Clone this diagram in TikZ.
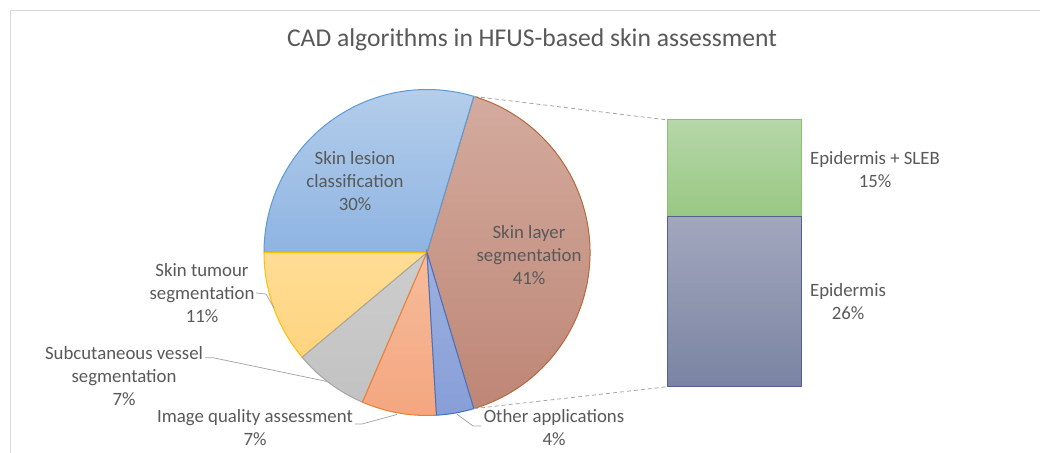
\documentclass[tikz,border=0pt]{standalone}
\usepackage{fontspec}
\setmainfont{Carlito}
\definecolor{txt}{HTML}{595959}
\definecolor{frame}{HTML}{D9D9D9}
\definecolor{lead}{HTML}{A6A6A6}
\definecolor{layT}{HTML}{D3AB9E}\definecolor{layB}{HTML}{BE8676}\definecolor{layD}{HTML}{B7683E}
\definecolor{lesT}{HTML}{B6CFEB}\definecolor{lesB}{HTML}{8EB4E2}\definecolor{lesD}{HTML}{5B9BD5}
\definecolor{tumT}{HTML}{FFDC96}\definecolor{tumB}{HTML}{FFD47E}\definecolor{tumD}{HTML}{FFC000}
\definecolor{vesT}{HTML}{CDCDCD}\definecolor{vesB}{HTML}{C2C2C2}\definecolor{vesD}{HTML}{A5A5A5}
\definecolor{iqaT}{HTML}{F6BC9C}\definecolor{iqaB}{HTML}{F4A67F}\definecolor{iqaD}{HTML}{ED7D31}
\definecolor{othT}{HTML}{9DB1DE}\definecolor{othB}{HTML}{879ED8}\definecolor{othD}{HTML}{4472C4}
\definecolor{grnT}{HTML}{B6D7A8}\definecolor{grnB}{HTML}{98C883}\definecolor{grnD}{HTML}{8CC070}
\definecolor{bluT}{HTML}{A2A7BD}\definecolor{bluB}{HTML}{7A84A2}\definecolor{bluD}{HTML}{4F6290}
\begin{document}
\begin{tikzpicture}[x=1pt,y=1pt,
  lbl/.style={text=txt,align=center,inner sep=0pt,font=\fontsize{18.8}{23}\selectfont},
  slice/.style={line width=1pt},
  leader/.style={draw=lead,line width=0.75pt},
  zoomline/.style={draw=lead,line width=0.8pt,dash pattern=on 4pt off 3pt}]
\useasboundingbox (0,0) rectangle (1040,452);
\fill[white] (0,0) rectangle (1040,452);
% chart frame
\draw[frame,line width=1pt] (10,-5) -- (10,441) -- (1045,441);
% title
\node[text=txt,inner sep=0pt,font=\fontsize{25.6}{30}\selectfont] (title) at (532,412) {CAD algorithms in HFUS-based skin assessment};
% pie
\coordinate (c) at (427,199.5);
\def\R{163}
\shade[top color=layT,bottom color=layB] (c) -- ++(-73.33:\R) arc[start angle=-73.33,end angle=73.33,radius=\R] -- cycle;
\draw[slice,draw=layD] (c) -- ++(-73.33:\R) arc[start angle=-73.33,end angle=73.33,radius=\R] -- cycle;
\shade[top color=lesT,bottom color=lesB] (c) -- ++(73.33:\R) arc[start angle=73.33,end angle=180,radius=\R] -- cycle;
\draw[slice,draw=lesD] (c) -- ++(73.33:\R) arc[start angle=73.33,end angle=180,radius=\R] -- cycle;
\shade[top color=tumT,bottom color=tumB] (c) -- ++(180:\R) arc[start angle=180,end angle=220,radius=\R] -- cycle;
\draw[slice,draw=tumD] (c) -- ++(180:\R) arc[start angle=180,end angle=220,radius=\R] -- cycle;
\shade[top color=vesT,bottom color=vesB] (c) -- ++(220:\R) arc[start angle=220,end angle=246.67,radius=\R] -- cycle;
\draw[slice,draw=vesD] (c) -- ++(220:\R) arc[start angle=220,end angle=246.67,radius=\R] -- cycle;
\shade[top color=iqaT,bottom color=iqaB] (c) -- ++(246.67:\R) arc[start angle=246.67,end angle=273.33,radius=\R] -- cycle;
\draw[slice,draw=iqaD] (c) -- ++(246.67:\R) arc[start angle=246.67,end angle=273.33,radius=\R] -- cycle;
\shade[top color=othT,bottom color=othB] (c) -- ++(273.33:\R) arc[start angle=273.33,end angle=286.67,radius=\R] -- cycle;
\draw[slice,draw=othD] (c) -- ++(273.33:\R) arc[start angle=273.33,end angle=286.67,radius=\R] -- cycle;
% bar
\shade[top color=grnT,bottom color=grnB] (667.7,235.3) rectangle (801,332);
\draw[draw=grnD,line width=1pt] (667.7,235.3) rectangle (801,332);
\shade[top color=bluT,bottom color=bluB] (667.7,65.3) rectangle (801,235.3);
\draw[draw=bluD,line width=1pt] (667.7,65.3) rectangle (801,235.3);
\coordinate (barTop) at (667.7,332);
\coordinate (barBot) at (667.7,65.3);
\coordinate (pieTop) at (473.8,355.6);
\coordinate (pieBot) at (473.8,43.4);
\draw[zoomline] (pieTop) -- (barTop);
\draw[zoomline] (pieBot) -- (barBot);
% labels
\node[lbl] (lesion) at (355,271) {Skin lesion\\classification\\30\%};
\node[lbl] (layer) at (529,197) {Skin layer\\segmentation\\41\%};
\node[lbl] (tumour) at (202,159) {Skin tumour\\segmentation\\11\%};
\node[lbl] (vessel) at (124,76) {Subcutaneous vessel\\segmentation\\7\%};
\node[lbl] (iqa) at (255,24) {Image quality assessment\\7\%};
\node[lbl] (other) at (554,24) {Other applications\\4\%};
\node[lbl] (sleb) at (875,282) {Epidermis + SLEB\\15\%};
\node[lbl] (epi) at (848,150) {Epidermis\\26\%};
% leader lines
\coordinate (tA) at (256,159); \coordinate (tE) at (274,144);
\coordinate (vA) at (205,94.3); \coordinate (vE) at (328,70.3);
\coordinate (iA) at (355,28); \coordinate (iE) at (397,37.5);
\coordinate (oA) at (481,26); \coordinate (oE) at (456.7,38);
\draw[leader] (tA) -- ++(10,-1) -- (tE);
\draw[leader] (vA) -- ++(8,0) -- (vE);
\draw[leader] (iA) -- ++(7,0) -- (iE);
\draw[leader] (oA) -- ++(-8,0) -- (oE);
\end{tikzpicture}
\end{document}
